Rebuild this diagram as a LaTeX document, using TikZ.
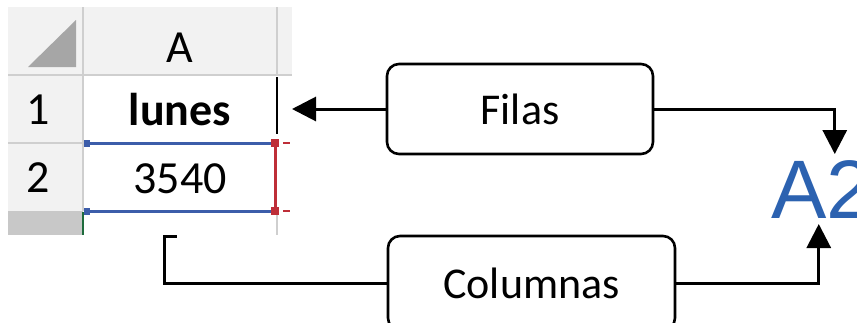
\documentclass[tikz,border=0pt]{standalone}
\usepackage{fontspec}
\setmainfont{Carlito}
\newfontfamily\arialfont{Liberation Sans}
\usepackage{xcolor}
\usepackage{tikz}
\usetikzlibrary{arrows.meta}
\definecolor{HeadGray}{HTML}{F2F2F2}
\definecolor{GridGray}{HTML}{CFCFCF}
\definecolor{SelGray}{HTML}{C8C8C8}
\definecolor{TriGray}{HTML}{A6A6A6}
\definecolor{SelBlue}{HTML}{3C5DAA}
\definecolor{SelRed}{HTML}{BE2E38}
\definecolor{SelGreen}{HTML}{1E6B3C}
\definecolor{RefBlue}{HTML}{2C62B0}
\tikzset{
  labelbox/.style={draw=black,line width=2.6pt,rounded corners=12pt,inner sep=0pt,
              font=\fontsize{44}{50}\selectfont},
  celltext/.style={inner sep=0pt,font=\fontsize{46}{50}\selectfont},
  grid/.style={draw=GridGray,line width=1.6pt},
  link/.style={line width=3pt,draw=black},
  arrowlink/.style={-{Triangle[length=24pt,width=24pt]},line width=3pt,draw=black}
}

\begin{document}
\begin{tikzpicture}[x=1pt,y=-1pt]
  \useasboundingbox (0,0) rectangle (857,322);
  \clip (0,0) rectangle (857,322);
  % spreadsheet cut-out
  \fill[HeadGray] (8,7) rectangle (292,75);
  \fill[HeadGray] (8,75) rectangle (83,211);
  \fill[SelGray] (8,211) rectangle (83,235);
  \fill[TriGray] (28,67) -- (76,67) -- (76,20) -- cycle;
  \draw[grid] (8,75) -- (292,75);
  \draw[grid] (83,7) -- (83,211);
  \draw[grid] (277,7) -- (277,75);
  \draw[grid] (8,143) -- (83,143);
  \draw[grid] (277,213) -- (277,235);
  \draw[black,line width=2pt] (277,77) -- (277,134);
  \draw[SelGreen,line width=2.2pt] (83,212) -- (83,235);
  \node[celltext] (colA) at (180,48) {A};
  \node[celltext] (row1) at (38,110) {1};
  \node[celltext,font=\fontsize{46}{50}\selectfont\bfseries] (day) at (180,110) {lunes};
  \node[celltext] (row2) at (38,178) {2};
  \node[celltext] (amount) at (180,179) {3540};
  % selection marks
  \draw[SelBlue,line width=3pt] (86,143) -- (275,143);
  \draw[SelBlue,line width=3pt] (86,211) -- (275,211);
  \fill[SelBlue] (84,139.5) rectangle (90,146.5);
  \fill[SelBlue] (84,207.5) rectangle (90,214.5);
  \draw[SelRed,line width=3pt] (275,143) -- (275,211);
  \fill[SelRed] (271,139) rectangle (279,147);
  \fill[SelRed] (271,207) rectangle (279,215);
  \draw[SelRed,line width=2pt] (283,143) -- (290,143);
  \draw[SelRed,line width=2pt] (283,211) -- (290,211);
  % labels
  \node[labelbox,minimum width=266pt,minimum height=90pt] (filas) at (520,109) {Filas};
  \node[labelbox,minimum width=287pt,minimum height=94pt] (cols) at (531.5,283) {Columnas};
  \node[inner sep=0pt,outer sep=6pt,anchor=base west,text=RefBlue,
        font=\arialfont\fontsize{83}{90}\selectfont] (ref) at (765,218) {A2};
  \coordinate (rowmark) at (292,109);
  \coordinate (brkfoot) at (164,236);
  \coordinate (brkend) at (177,236);
  \draw[arrowlink] (filas.west) -- (rowmark);
  \draw[arrowlink] (filas.east) -| ([xshift=13pt]ref.north);
  \draw[link] (cols.west) -| (brkfoot) -- (brkend);
  \draw[arrowlink] (cols.east) -| ([xshift=-3pt]ref.south);
\end{tikzpicture}
\end{document}
